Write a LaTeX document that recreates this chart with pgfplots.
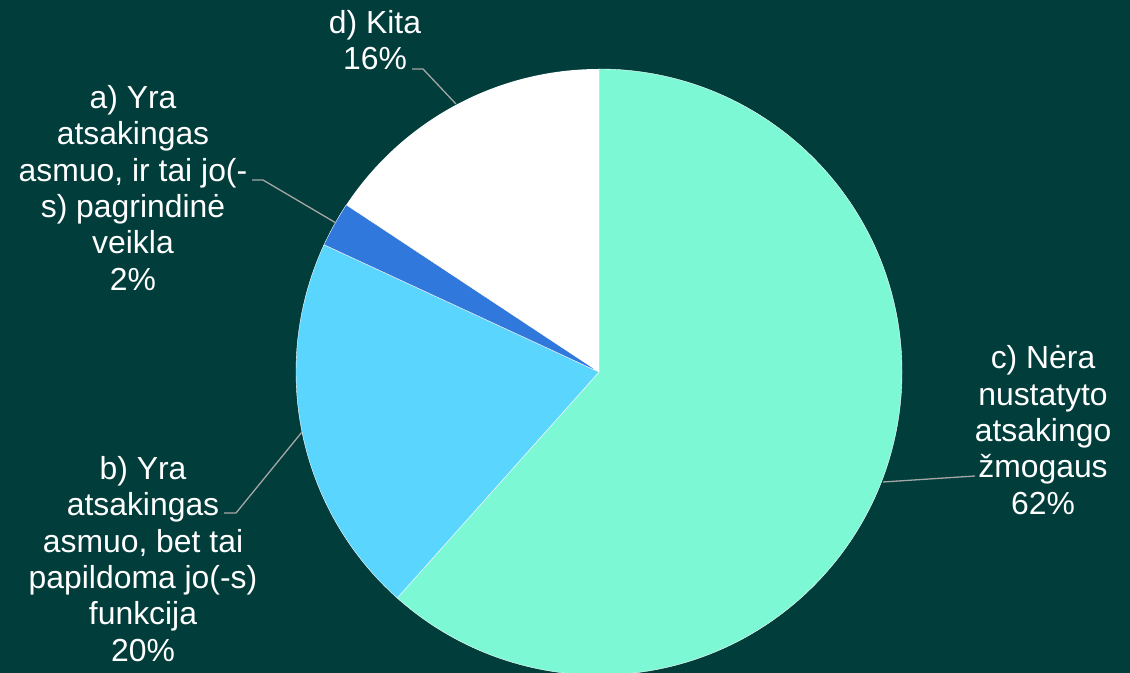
\documentclass[border=0pt]{standalone}
\usepackage{pgfplots}
\pgfplotsset{compat=1.18}
\usepackage{fontspec}
\setmainfont{Liberation Sans}
\definecolor{bg}{HTML}{003D3B}
\definecolor{sliceC}{HTML}{7CF9D4}
\definecolor{sliceB}{HTML}{5AD5FE}
\definecolor{sliceA}{HTML}{3178DC}
\definecolor{sliceD}{HTML}{FFFFFF}
\definecolor{leader}{HTML}{A6A6A6}
\tikzset{lbl/.style={font=\fontsize{32}{36.5}\selectfont, text=white, align=center, inner sep=0pt}}
\begin{document}
\begin{tikzpicture}
% shares in percent, clockwise from the top
\pgfmathsetmacro{\vC}{61.6}
\pgfmathsetmacro{\vB}{20.3}
\pgfmathsetmacro{\vA}{2.4}
\pgfmathsetmacro{\vD}{15.7}
\pgfmathsetmacro{\aOne}{90-3.6*\vC}
\pgfmathsetmacro{\aTwo}{\aOne-3.6*\vB}
\pgfmathsetmacro{\aThree}{\aTwo-3.6*\vA}
\pgfmathsetmacro{\aFour}{\aThree-3.6*\vD}
\begin{axis}[
  name=ax,
  scale only axis,
  width=1130bp, height=673bp,
  xmin=0, xmax=1130, ymin=0, ymax=673,
  hide axis,
  clip=true,
]
\fill[bg] (axis cs:0,0) rectangle (axis cs:1130,673);
\fill[sliceC, draw=white, line width=0.4pt] (axis cs:599,301) -- ++(90:303bp) arc[start angle=90, end angle=\aOne, radius=303bp] -- cycle;
\fill[sliceB, draw=white, line width=0.4pt] (axis cs:599,301) -- ++(\aOne:303bp) arc[start angle=\aOne, end angle=\aTwo, radius=303bp] -- cycle;
\fill[sliceA, draw=white, line width=0.4pt] (axis cs:599,301) -- ++(\aTwo:303bp) arc[start angle=\aTwo, end angle=\aThree, radius=303bp] -- cycle;
\fill[sliceD] (axis cs:599,301) -- ++(\aThree:303bp) arc[start angle=\aThree, end angle=\aFour, radius=303bp] -- cycle;
% leader lines
\addplot[leader, line width=1.3pt] coordinates {(412,604) (423,604) (456,569)};
\addplot[leader, line width=1.3pt] coordinates {(252,493) (263,493) (336,450)};
\addplot[leader, line width=1.3pt] coordinates {(224,160) (236,160) (302,241)};
\addplot[leader, line width=1.3pt] coordinates {(883,191) (975,197)};
% labels
\node[lbl] at (axis cs:375,633) {d) Kita\\16\%};
\node[lbl] at (axis cs:133,485) {a) Yra\\atsakingas\\asmuo, ir tai jo(-\\s) pagrindinė\\veikla\\2\%};
\node[lbl] at (axis cs:1043,243) {c) Nėra\\nustatyto\\atsakingo\\žmogaus\\62\%};
\node[lbl] at (axis cs:143,114) {b) Yra\\atsakingas\\asmuo, bet tai\\papildoma jo(-s)\\funkcija\\20\%};
\end{axis}
\pgfresetboundingbox
\path (ax.south west) rectangle (ax.north east);
\end{tikzpicture}
\end{document}
